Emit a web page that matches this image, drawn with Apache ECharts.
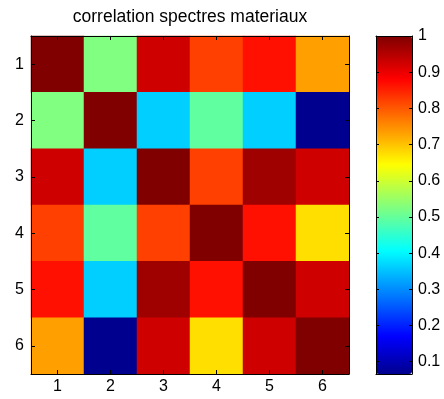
<!DOCTYPE html>
<html>
<head>
<meta charset="utf-8">
<script src="https://cdn.jsdelivr.net/npm/echarts@6/dist/echarts.min.js"></script>
<style>html,body{margin:0;padding:0;background:#fff}#c{width:444px;height:399px}</style>
</head>
<body>
<div id="c"></div>
<script>
// ---- data ----
const categories = ['1', '2', '3', '4', '5', '6'];
const row1 = [1.000, 0.526, 0.920, 0.818, 0.861, 0.730];
const row2 = [0.526, 1.000, 0.365, 0.496, 0.365, 0.066];
const row3 = [0.920, 0.365, 1.000, 0.818, 0.963, 0.920];
const row4 = [0.818, 0.496, 0.818, 1.000, 0.861, 0.672];
const row5 = [0.861, 0.365, 0.963, 0.861, 1.000, 0.920];
const row6 = [0.730, 0.066, 0.920, 0.672, 0.920, 1.000];
const colorbarTicks = [0.1, 0.2, 0.3, 0.4, 0.5, 0.6, 0.7, 0.8, 0.9, 1.0];
const colorMin = 0.066;
const colorMax = 1.0;
const titleText = 'correlation spectres materiaux';

// ---- MATLAB jet colormap ----
function jet(n) {
  const m = Math.ceil(n / 4);
  const u = [];
  for (let k = 1; k <= m; k++) u.push(k / m);
  for (let k = 0; k < m - 1; k++) u.push(1);
  for (let k = m; k >= 1; k--) u.push(k / m);
  const g0 = Math.ceil(m / 2) - (n % 4 === 1 ? 1 : 0);
  const J = [];
  for (let i = 0; i < n; i++) J.push([0, 0, 0]);
  for (let k = 0; k < u.length; k++) {
    const g = g0 + k + 1, r = g + m, b = g - m;
    if (r >= 1 && r <= n) J[r - 1][0] = u[k];
    if (g >= 1 && g <= n) J[g - 1][1] = u[k];
    if (b >= 1 && b <= n) J[b - 1][2] = u[k];
  }
  return J.map(c => 'rgb(' + c.map(x => Math.round(x * 255)).join(',') + ')');
}
const jetColors = jet(64);
const pieces = jetColors.map((c, i) => ({
  gte: colorMin + i * (colorMax - colorMin) / 64,
  lt: i === 63 ? colorMax + 1e-9 : colorMin + (i + 1) * (colorMax - colorMin) / 64,
  color: c
}));

const rows = [row1, row2, row3, row4, row5, row6];
const heatData = [];
rows.forEach((row, r) => row.forEach((v, c) => heatData.push([c, r, v])));

const FONT = 'Liberation Sans';
const FS = 16;
const box = { left: 31, top: 36, width: 318, height: 338 };
const cbar = { left: 376, top: 36, width: 36, height: 338 };

const lineStyle = { color: '#000', width: 1 };
function catAxis(extra) {
  return Object.assign({
    type: 'category', data: categories, z: 10,
    axisLine: { show: true, lineStyle },
    axisTick: { show: true, inside: true, alignWithLabel: true, length: 4, lineStyle },
    axisLabel: { show: false },
    splitLine: { show: false }
  }, extra);
}

const chart = echarts.init(document.getElementById('c'), null, { renderer: 'canvas' });
chart.setOption({
  backgroundColor: '#fff',
  animation: false,
  title: {
    text: titleText, left: 190, top: 8, padding: 0, textAlign: 'center',
    textStyle: { fontFamily: FONT, fontSize: 17.5, fontWeight: 'normal', color: '#000' }
  },
  grid: [
    Object.assign({ containLabel: false }, box),
    Object.assign({ containLabel: false }, cbar)
  ],
  xAxis: [
    catAxis({ gridIndex: 0, position: 'bottom',
      axisLabel: { show: true, color: '#000', fontFamily: FONT, fontSize: FS, margin: 5 } }),
    catAxis({ gridIndex: 0, position: 'top' }),
    { gridIndex: 1, type: 'category', data: [''], position: 'bottom', z: 10,
      axisLine: { show: true, lineStyle }, axisTick: { show: false }, axisLabel: { show: false } },
    { gridIndex: 1, type: 'category', data: [''], position: 'top', z: 10,
      axisLine: { show: true, lineStyle }, axisTick: { show: false }, axisLabel: { show: false } }
  ],
  yAxis: [
    catAxis({ gridIndex: 0, position: 'left', inverse: true,
      axisLabel: { show: true, color: '#000', fontFamily: FONT, fontSize: FS, margin: 7 } }),
    catAxis({ gridIndex: 0, position: 'right', inverse: true }),
    { gridIndex: 1, type: 'value', min: colorMin, max: colorMax, position: 'right', z: 10,
      axisLine: { show: true, lineStyle },
      axisTick: { show: true, inside: true, length: 3, lineStyle, customValues: colorbarTicks },
      axisLabel: { show: true, color: '#000', fontFamily: FONT, fontSize: FS, margin: 6,
        customValues: colorbarTicks, formatter: v => String(+v.toFixed(1)) },
      splitLine: { show: false } },
    { gridIndex: 1, type: 'value', min: colorMin, max: colorMax, position: 'left', z: 10,
      axisLine: { show: true, lineStyle },
      axisTick: { show: true, inside: true, length: 3, lineStyle, customValues: colorbarTicks },
      axisLabel: { show: false }, splitLine: { show: false } }
  ],
  visualMap: [
    { type: 'piecewise', show: false, seriesIndex: 0, dimension: 2, pieces: pieces },
    { type: 'continuous', show: true, seriesIndex: 1, min: colorMin, max: colorMax,
      orient: 'vertical', left: cbar.left, top: cbar.top, itemWidth: cbar.width, itemHeight: cbar.height,
      padding: 0, calculable: false, hoverLink: false, text: null, showLabel: false,
      inRange: { color: jetColors }, z: 1 }
  ],
  series: [
    { type: 'heatmap', xAxisIndex: 0, yAxisIndex: 0, data: heatData,
      itemStyle: { borderWidth: 0 }, emphasis: { disabled: true }, label: { show: false } },
    { type: 'scatter', xAxisIndex: 2, yAxisIndex: 2, data: [], silent: true }
  ]
});
</script>
</body>
</html>
